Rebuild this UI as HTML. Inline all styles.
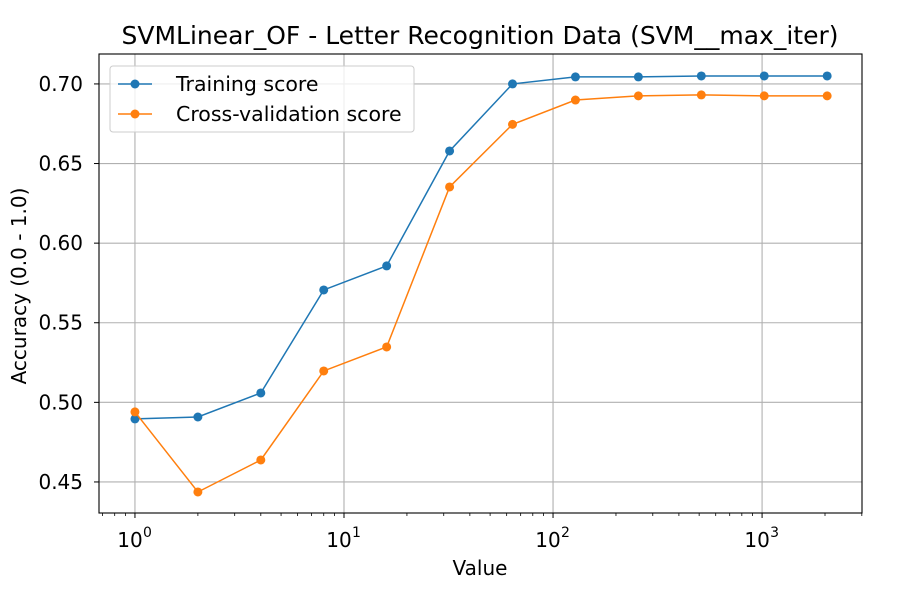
<!DOCTYPE html>
<html><head><meta charset="utf-8"><style>
body{margin:0;background:#fff;}
svg{display:block;font-family:"DejaVu Sans","Liberation Sans",sans-serif;}
</style></head><body>
<svg id="chart" width="900" height="600"></svg>
<script>
const xValues=[1,2,4,8,16,32,64,128,256,512,1024,2048];
const trainScores=[0.4896,0.4908,0.5059,0.5706,0.5857,0.6579,0.700,0.7044,0.7044,0.7050,0.7050,0.7050];
const cvScores=[0.494,0.4437,0.4638,0.5197,0.5348,0.6353,0.6746,0.6899,0.6925,0.6931,0.6925,0.6925];
const yTicks=[0.45,0.50,0.55,0.60,0.65,0.70];
const yTickLabels=["0.45","0.50","0.55","0.60","0.65","0.70"];
const xTickExps=[0,1,2,3];

const L=99,R=862,T=54,B=513;
const xMin=-0.172,xMax=3.478,yMin=0.4305,yMax=0.7188;
const sx=v=>L+(Math.log10(v)-xMin)/(xMax-xMin)*(R-L);
const sy=v=>B-(v-yMin)/(yMax-yMin)*(B-T);
const svg=document.getElementById('chart');
const NS='http://www.w3.org/2000/svg';
function mk(tag,attrs,parent){const e=document.createElementNS(NS,tag);for(const k in attrs)e.setAttribute(k,attrs[k]);(parent||svg).appendChild(e);return e;}

const grid=mk('g',{});


xTickExps.forEach(e=>{const x=sx(Math.pow(10,e));mk('line',{x1:x,x2:x,y1:T,y2:B,stroke:'#b0b0b0','stroke-width':1.1},grid);});
yTicks.forEach(v=>{const y=sy(v);mk('line',{x1:L,x2:R,y1:y,y2:y,stroke:'#b0b0b0','stroke-width':1.1},grid);});

const ax=mk('g',{});


mk('rect',{x:L,y:T,width:R-L,height:B-T,fill:'none',stroke:'#000','stroke-width':1.1},ax);
xTickExps.forEach(e=>{const x=sx(Math.pow(10,e));mk('line',{x1:x,x2:x,y1:B,y2:B+5,stroke:'#000','stroke-width':1},ax);
 const t=mk('text',{x:x-5,y:B+34,'text-anchor':'middle','font-size':20},ax);t.textContent='10';
 const s=mk('text',{x:x+8,y:B+24,'font-size':14},ax);s.textContent=String(e);
 });
for(let e=-1;e<=3;e++)for(let m=2;m<=9;m++){const v=m*Math.pow(10,e);const lv=Math.log10(v);if(lv<xMin||lv>xMax)continue;const x=sx(v);mk('line',{x1:x,x2:x,y1:B,y2:B+3,stroke:'#000','stroke-width':0.8},ax);}
yTicks.forEach((v,i)=>{const y=sy(v);mk('line',{x1:L-5,x2:L,y1:y,y2:y,stroke:'#000','stroke-width':1},ax);
 const t=mk('text',{x:L-16,y:y+7,'text-anchor':'end','font-size':20},ax);t.textContent=yTickLabels[i];
 });

function series(vals,color,name){const g=mk('g',{});
 mk('polyline',{points:vals.map((v,i)=>sx(xValues[i])+','+sy(v)).join(' '),fill:'none',stroke:color,'stroke-width':1.5},g);
 vals.forEach((v,i)=>{const c=mk('circle',{cx:sx(xValues[i]),cy:sy(v),r:4.5,fill:color},g);});}
series(trainScores,'#1f77b4','training-score-series');
series(cvScores,'#ff7f0e','cv-score-series');

const title=mk('text',{x:480,y:44,'text-anchor':'middle','font-size':25});title.textContent='SVMLinear_OF - Letter Recognition Data (SVM__max_iter)';

const xl=mk('text',{x:480,y:575,'text-anchor':'middle','font-size':20});xl.textContent='Value';

const yl=mk('text',{x:26,y:286,'text-anchor':'middle','font-size':20,transform:'rotate(-90 26 286)'});yl.textContent='Accuracy (0.0 - 1.0)';


const lg=mk('g',{});
mk('rect',{x:110,y:66,width:304,height:66,rx:3,fill:'#fff','fill-opacity':0.8,stroke:'#ccc'},lg);
[['Training score','#1f77b4',84],['Cross-validation score','#ff7f0e',114]].forEach(([t,c,y])=>{
 mk('line',{x1:118,x2:152,y1:y,y2:y,stroke:c,'stroke-width':1.5},lg);mk('circle',{cx:135,cy:y,r:4.5,fill:c},lg);
 const tx=mk('text',{x:176,y:y+7,'font-size':20.5},lg);tx.textContent=t;});
</script>
</body></html>
